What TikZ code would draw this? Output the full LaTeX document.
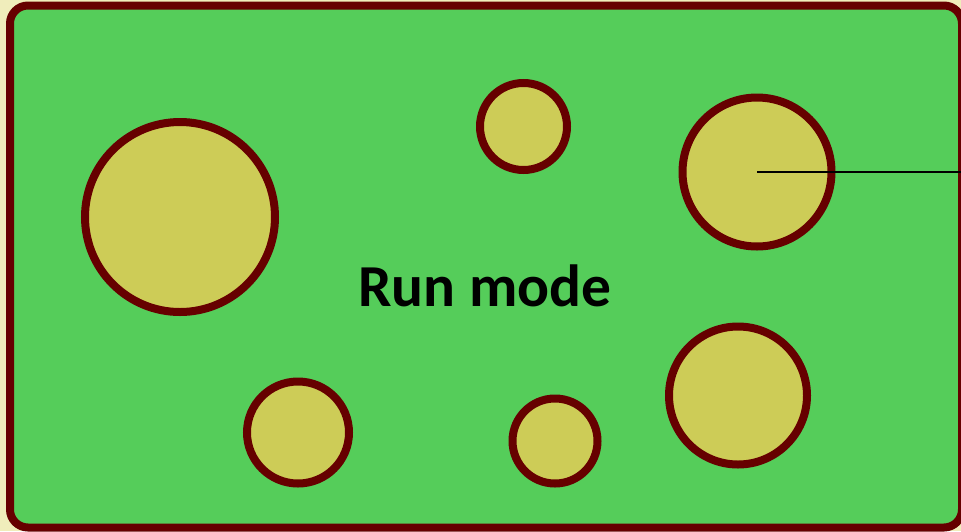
\documentclass[tikz,border=0pt]{standalone}
\usepackage{fontspec}
\setmainfont{Carlito}
\definecolor{bgyellow}{HTML}{F0EDBB}
\definecolor{boardgreen}{HTML}{55CD5A}
\definecolor{darkred}{HTML}{660000}
\definecolor{padfill}{HTML}{CDCC57}
\begin{document}
\begin{tikzpicture}[x=1pt,y=-1pt,
  pad/.style={circle,draw=darkred,fill=padfill,line width=8pt,inner sep=0pt,minimum size=#1},
  board/.style={draw=darkred,fill=boardgreen,line width=8pt,rounded corners=18pt},
  label/.style={font=\bfseries\fontsize{59.5}{61}\selectfont,text=black}]
\fill[bgyellow] (0,0) rectangle (961,531);
\useasboundingbox (0,0) rectangle (961,531);
\draw[board] (10,5.5) rectangle (962,527.5);
\node[pad=190pt] (c1) at (180,217) {};
\node[pad=87pt] (c2) at (523.5,126.5) {};
\node[pad=149pt] (c3) at (757,172) {};
\node[pad=102pt] (c4) at (298,432.5) {};
\node[pad=85pt] (c5) at (555,441) {};
\node[pad=138pt] (c6) at (738,395.5) {};
\node[label,anchor=base] (t) at (485,306) {Run mode};
\coordinate (lineend) at (961,172);
\draw[black,line width=1.6pt] (c3.center) -- (lineend);
\end{tikzpicture}
\end{document}
